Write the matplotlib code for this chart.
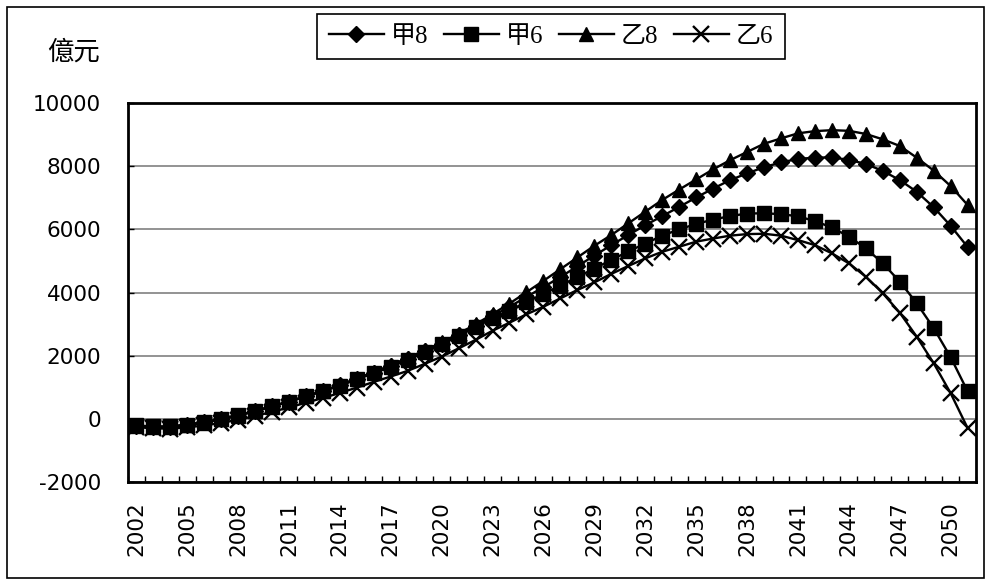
import matplotlib
matplotlib.use("Agg")
import matplotlib.pyplot as plt
from matplotlib.patches import Rectangle
import numpy as np

years = list(range(2002, 2052))

jia8 = [-220, -250, -250, -190, -110, -10, 105, 245, 395, 545, 715, 880, 1060,
        1260, 1460, 1670, 1900, 2135, 2380, 2660, 2950, 3250, 3550, 3860, 4170,
        4490, 4830, 5170, 5500, 5820, 6130, 6420, 6710, 7010, 7290, 7560, 7770,
        7970, 8120, 8230, 8270, 8280, 8200, 8070, 7850, 7560, 7190, 6700, 6110,
        5440]
jia6 = [-210, -240, -240, -180, -100, 0, 115, 250, 400, 545, 715, 875, 1050,
        1250, 1445, 1650, 1875, 2105, 2360, 2630, 2910, 3180, 3430, 3700, 3960,
        4220, 4490, 4760, 5030, 5300, 5550, 5800, 6000, 6170, 6310, 6420, 6500,
        6510, 6480, 6415, 6260, 6060, 5770, 5400, 4925, 4345, 3660, 2870, 1950,
        870]
yi8 = [-230, -260, -260, -200, -120, -20, 100, 240, 390, 545, 715, 885, 1070,
       1270, 1480, 1700, 1930, 2170, 2420, 2700, 2990, 3320, 3650, 4010, 4370,
       4740, 5110, 5480, 5820, 6190, 6560, 6930, 7260, 7580, 7900, 8190, 8450,
       8710, 8880, 9040, 9110, 9140, 9120, 9020, 8850, 8640, 8270, 7860, 7370,
       6770]
yi6 = [-260, -300, -310, -270, -210, -130, -30, 90, 220, 360, 510, 660, 820,
       990, 1170, 1340, 1520, 1740, 1970, 2230, 2500, 2790, 3045, 3310, 3550,
       3815, 4080, 4320, 4590, 4840, 5080, 5290, 5450, 5610, 5710, 5800, 5850,
       5860, 5800, 5660, 5500, 5240, 4925, 4500, 3975, 3360, 2600, 1760, 810,
       -295]

series_labels = ["甲8", "甲6", "乙8", "乙6"]
y_unit = "億元"
y_ticks = [-2000, 0, 2000, 4000, 6000, 8000, 10000]

fig = plt.figure(figsize=(9.86, 5.83), dpi=100)
ax = fig.add_axes([0.1295, 0.1732, 0.8605, 0.6501])

x = np.arange(len(years))
styles = [
    dict(marker="D", markersize=8),
    dict(marker="s", markersize=10.5),
    dict(marker="^", markersize=10.5),
    dict(marker="x", markersize=11, markeredgewidth=1.7),
]
for vals, lab, st in zip([jia8, jia6, yi8, yi6], series_labels, styles):
    ax.plot(x, vals, color="black", linewidth=1.7, markerfacecolor="black",
            markeredgecolor="black", label=lab, **st)

ax.set_xlim(-0.5, len(years) - 0.5)
ax.set_ylim(-2000, 10000)
ax.set_yticks(y_ticks)
ax.set_yticklabels([str(v) for v in y_ticks], fontsize=15.5,
                   family="DejaVu Sans")
ax.yaxis.grid(True, color="#808080", linewidth=1.2)
ax.set_axisbelow(True)
ax.tick_params(axis="y", direction="in", length=4, width=1, pad=19)

ax.set_xticks(x[::3])
ax.set_xticklabels([str(years[i]) for i in x[::3]], rotation=90,
                   fontsize=15.5, family="DejaVu Sans")
ax.tick_params(axis="x", which="major", length=0, pad=14)
ax.set_xticks(np.arange(-0.5, len(years) + 0.5, 1), minor=True)
ax.tick_params(axis="x", which="minor", direction="in", length=4, width=1)

for s in ax.spines.values():
    s.set_linewidth(2)
    s.set_color("black")

fig.text(0.075, 1 - 52 / 583, y_unit, fontsize=19, ha="center",
         va="center", family=["Noto Sans CJK TC"])

leg = fig.legend(loc="center", bbox_to_anchor=(0.559, 0.937), ncol=4,
                 frameon=True, fancybox=False, framealpha=1,
                 edgecolor="black", handlelength=2.2, handletextpad=0.3,
                 columnspacing=0.6, borderpad=0.45,
                 prop={"family": ["Liberation Serif", "Noto Sans CJK TC"],
                       "size": 18})
leg.get_frame().set_linewidth(1.2)

fig.patches.append(Rectangle((7 / 986, 5 / 583), 977 / 986, 571 / 583,
                             transform=fig.transFigure, fill=False,
                             edgecolor="black", linewidth=1.2))

fig.savefig("out.png", dpi=100)
